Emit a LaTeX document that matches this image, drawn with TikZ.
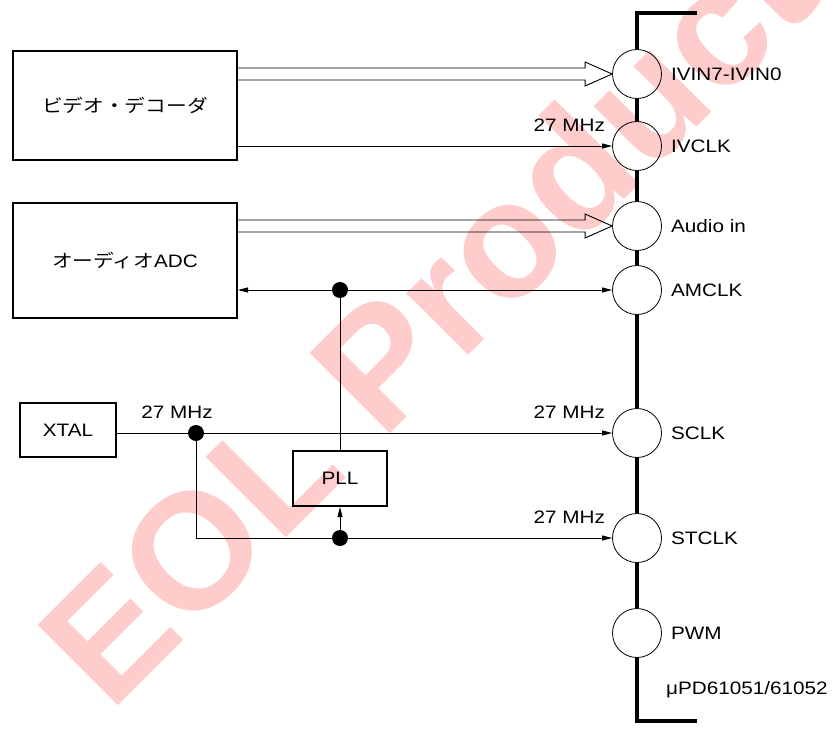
\documentclass[tikz,border=0pt]{standalone}
\usepackage{fontspec}
\setmainfont{Liberation Sans}[FakeStretch=1.15]
\newfontfamily\jpfont{Noto Sans CJK JP}[FakeStretch=1.15]
\newfontfamily\wmfont{Liberation Sans}
\usetikzlibrary{arrows.meta,calc,positioning}

\begin{document}
\begin{tikzpicture}[x=1pt, y=-1pt, >={Triangle[length=10pt,width=5pt]},
    font=\fontsize{18}{21}\selectfont,
    blk/.style={draw, line width=2pt, inner sep=0pt},
    pin/.style={draw, circle, minimum size=49pt, inner sep=0pt, line width=0.8pt},
    dot/.style={circle, fill=black, minimum size=16pt, inner sep=0pt},
    lbl/.style={anchor=west, inner sep=0pt},
    freq/.style={anchor=base east, inner sep=0pt},
    wire/.style={line width=0.9pt}]
    \useasboundingbox (0,0) rectangle (836,731);

    % 水印 (放在最底层)
    \begin{scope}
        \clip (0,0) rectangle (836,731);
        \node[rotate=45, anchor=base west, inner sep=0pt, text=red!20,
            font=\wmfont\bfseries\fontsize{165}{165}\selectfont] (wm) at (110,714) {EOL Product};
    \end{scope}

    % 引脚圆圈
    \node[pin] (ivin)  at (637,74)  {};
    \node[pin] (ivclk) at (637,146) {};
    \node[pin] (ain)   at (637,226) {};
    \node[pin] (amclk) at (637,290) {};
    \node[pin] (sclk)  at (637,433) {};
    \node[pin] (stclk) at (637,538) {};
    \node[pin] (pwm)   at (637,633) {};

    % 芯片的粗边框 (圆圈之间)
    \draw[line width=4pt] (697,13) -- (637,13) -- (ivin.north)
        (ivin.south) -- (ivclk.north) (ivclk.south) -- (ain.north)
        (ain.south) -- (amclk.north) (amclk.south) -- (sclk.north)
        (sclk.south) -- (stclk.north) (stclk.south) -- (pwm.north)
        (pwm.south) -- (637,721) -- (697,721);

    % 引脚名称
    \node[lbl, right=9pt of ivin]  (ivinL)  {IVIN7-IVIN0};
    \node[lbl, right=9pt of ivclk] (ivclkL) {IVCLK};
    \node[lbl, right=9pt of ain]   (ainL)   {Audio in};
    \node[lbl, right=9pt of amclk] (amclkL) {AMCLK};
    \node[lbl, right=9pt of sclk]  (sclkL)  {SCLK};
    \node[lbl, right=9pt of stclk] (stclkL) {STCLK};
    \node[lbl, right=9pt of pwm]   (pwmL)   {PWM};
    \node[lbl] (chip) at (666,690) {μPD61051/61052};

    % 外部方框
    \node[blk, minimum width=224pt, minimum height=109pt] (vdec) at (125,105.5) {\jpfont ビデオ・デコーダ};
    \node[blk, minimum width=224pt, minimum height=115pt] (adc)  at (125,260.5) {{\jpfont オーディオ}ADC};
    \node[blk, minimum width=96pt, minimum height=54pt]   (xtal) at (68,430)    {XTAL};
    \node[blk, minimum width=94pt, minimum height=55pt]   (pll)  at (340,478.5) {PLL};

    % 连接点
    \node[dot] (amdot) at (pll |- amclk) {};
    \node[dot] (xdot)  at (196,433) {};
    \node[dot] (stdot) at (pll |- stclk) {};

    % 空心双线箭头 (数据总线)
    \draw[wire] ($(vdec.east |- ivin)+(0,-6)$) -- ($(ivin.west)+(-27,-6)$) -- ++(0,-6)
        -- (ivin.west) -- ($(ivin.west)+(-27,12)$) -- ++(0,-6) -- ($(vdec.east |- ivin)+(0,6)$);
    \draw[wire] ($(adc.east |- ain)+(0,-6)$) -- ($(ain.west)+(-27,-6)$) -- ++(0,-6)
        -- (ain.west) -- ($(ain.west)+(-27,12)$) -- ++(0,-6) -- ($(adc.east |- ain)+(0,6)$);

    % 时钟连线
    \draw[wire,->] (vdec.east |- ivclk) -- (ivclk.west);
    \draw[wire,<->] (adc.east |- amclk) -- (amclk.west);
    \draw[wire] (amdot.center) -- (pll.north);
    \draw[wire,->] (xtal.east |- sclk) -- (sclk.west);
    \draw[wire,->] (xdot.center) |- (stclk.west);
    \draw[wire,->] (stdot.center) -- (pll.south);

    % 频率标注
    \node[freq] (f1) at ($(ivclk.west)+(-7,-15)$) {27 MHz};
    \node[freq] (f2) at ($(sclk.west)+(-7,-15)$)  {27 MHz};
    \node[freq] (f3) at ($(stclk.west)+(-7,-15)$) {27 MHz};
    \node[anchor=base, inner sep=0pt] (f0) at ($(xdot)+(-19,-15)$) {27 MHz};
\end{tikzpicture}
\end{document}
